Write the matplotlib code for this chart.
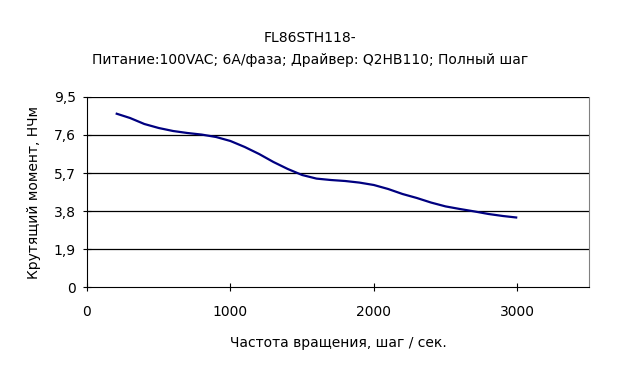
import matplotlib.pyplot as plt

# ---------------- DATA ----------------
speed = [200, 300, 400, 500, 600, 700, 800, 900, 1000, 1100, 1200, 1300, 1400,
         1500, 1600, 1700, 1800, 1900, 2000, 2100, 2200, 2300, 2400, 2500,
         2600, 2700, 2800, 2900, 3000]
torque = [8.68, 8.45, 8.15, 7.95, 7.8, 7.7, 7.62, 7.5, 7.3, 7.0, 6.65, 6.25,
          5.9, 5.6, 5.42, 5.35, 5.3, 5.22, 5.1, 4.9, 4.65, 4.45, 4.22, 4.03,
          3.9, 3.78, 3.65, 3.55, 3.47]
y_ticks = [0, 1.9, 3.8, 5.7, 7.6, 9.5]
y_labels = ["0", "1,9", "3,8", "5,7", "7,6", "9,5"]
x_ticks = [0, 1000, 2000, 3000]

# ---------------- PLOT ----------------
plt.rcParams['font.family'] = ['DejaVu Sans']
fig = plt.figure(figsize=(6.2, 3.78), dpi=100)
ax = fig.add_axes([0.1403, 0.2407, 0.8097, 0.5027])

ax.plot(speed, torque, color='#000080', lw=1.6, solid_capstyle='butt')

ax.set_xlim(0, 3500)
ax.set_ylim(0, 9.5)
ax.set_yticks(y_ticks)
ax.set_yticklabels(y_labels)
ax.set_xticks(x_ticks)
ax.tick_params(direction='inout', length=6, width=0.8, labelsize=10)
ax.tick_params(axis='x', pad=10)
ax.tick_params(axis='y', pad=5)

for y in y_ticks[1:]:
    ax.axhline(y, color='black', lw=0.9, zorder=1)

ax.spines['left'].set_color('black')
ax.spines['bottom'].set_color('black')
ax.spines['right'].set_color('#808080')
ax.spines['top'].set_visible(False)

ax.set_xlabel("Частота вращения, шаг / сек.", fontsize=10, labelpad=12)
ax.set_ylabel("Крутящий момент, НЧм", fontsize=10, labelpad=9)

fig.text(0.5, 0.90, "FL86STH118-", ha='center', va='center', fontsize=10)
fig.text(0.5, 0.842, "Питание:100VAC; 6А/фаза; Драйвер: Q2HB110; Полный шаг",
         ha='center', va='center', fontsize=10)

fig.savefig("out.png", dpi=100)
